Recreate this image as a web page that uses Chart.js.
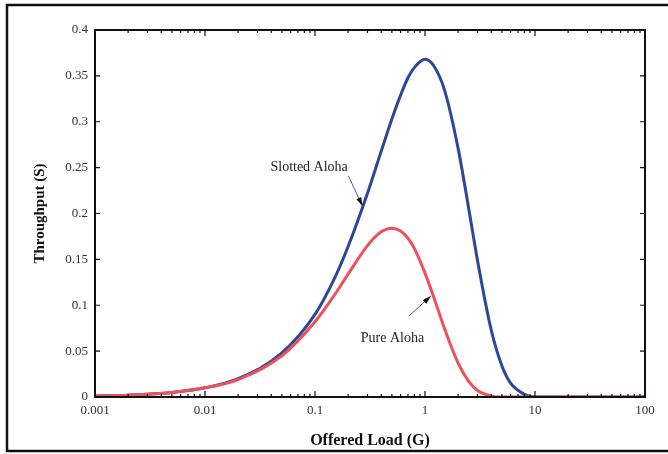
<!DOCTYPE html>
<html>
<head>
<meta charset="utf-8">
<script src="https://cdn.jsdelivr.net/npm/chart.js@4/dist/chart.umd.min.js"></script>
<style>
  html, body { margin: 0; padding: 0; background: #fff; }
  #wrap { width: 668px; height: 454px; }
</style>
</head>
<body>
<div id="wrap"><canvas id="aloha" width="668" height="454"></canvas></div>
<script>
// offered load G (log axis) and throughput
const loadG = [0.001, 0.002, 0.005, 0.01, 0.02, 0.05, 0.1, 0.15, 0.2, 0.3, 0.4, 0.5, 0.6, 0.7, 0.8, 1, 1.2, 1.5, 2, 2.5, 3, 4, 5, 6, 8, 10, 20, 50, 100];
const slotted = [0.001, 0.002, 0.005, 0.010, 0.020, 0.048, 0.090, 0.129, 0.164, 0.222, 0.268, 0.303, 0.329, 0.348, 0.359, 0.368, 0.361, 0.335, 0.271, 0.205, 0.149, 0.073, 0.034, 0.015, 0.003, 0.000, 0, 0, 0];
const pure = [0.001, 0.002, 0.005, 0.010, 0.019, 0.045, 0.082, 0.111, 0.134, 0.165, 0.180, 0.184, 0.181, 0.173, 0.162, 0.135, 0.109, 0.075, 0.037, 0.017, 0.007, 0.001, 0.000, 0, 0, 0, 0, 0, 0];
const xTicks = [0.001, 0.01, 0.1, 1, 10, 100];
const yTicks = [0, 0.05, 0.1, 0.15, 0.2, 0.25, 0.3, 0.35, 0.4];

const serif = '"Liberation Serif", "DejaVu Serif", serif';

const pts = arr => loadG.map((g, i) => ({ x: g, y: arr[i] }));

// frame, inward ticks and the two arrow labels
const decor = {
  id: 'decor',
  beforeDraw(chart) {
    const c = chart.ctx;
    c.save();
    c.fillStyle = '#fff';
    c.fillRect(0, 0, chart.width, chart.height);
    c.strokeStyle = '#111';
    c.lineWidth = 2.5;
    c.strokeRect(7, 5, 700, 446);
    c.restore();
  },
  afterDraw(chart) {
    const c = chart.ctx, a = chart.chartArea;
    const xs = chart.scales.x, ys = chart.scales.y;
    c.save();
    c.strokeStyle = '#111';
    c.lineWidth = 2;
    c.strokeRect(a.left, a.top, a.right - a.left, a.bottom - a.top);
    c.lineWidth = 1.2;
    c.beginPath();
    for (let d = 0; d < xTicks.length; d++) {
      for (let m = 1; m <= 9; m++) {
        if (d === xTicks.length - 1 && m > 1) break;
        const px = xs.getPixelForValue(xTicks[d] * m);
        const len = m === 1 ? 6 : 3;
        c.moveTo(px, a.bottom); c.lineTo(px, a.bottom - len);
        c.moveTo(px, a.top); c.lineTo(px, a.top + len);
      }
    }
    yTicks.forEach(v => {
      const py = ys.getPixelForValue(v);
      c.moveTo(a.left, py); c.lineTo(a.left + 5, py);
      c.moveTo(a.right, py); c.lineTo(a.right - 5, py);
    });
    c.stroke();

    const arrow = (x1, y1, x2, y2) => {
      c.strokeStyle = '#4a5a90';
      c.lineWidth = 1;
      c.beginPath(); c.moveTo(x1, y1); c.lineTo(x2, y2); c.stroke();
      const ang = Math.atan2(y2 - y1, x2 - x1);
      c.fillStyle = '#111';
      c.beginPath();
      c.moveTo(x2, y2);
      c.lineTo(x2 - 9 * Math.cos(ang - 0.3), y2 - 9 * Math.sin(ang - 0.3));
      c.lineTo(x2 - 9 * Math.cos(ang + 0.3), y2 - 9 * Math.sin(ang + 0.3));
      c.closePath(); c.fill();
    };
    c.font = '14px ' + serif;
    c.fillStyle = '#222';
    c.textBaseline = 'middle';

    const sx = xs.getPixelForValue(0.27), sy = ys.getPixelForValue(0.206);
    c.fillText('Slotted Aloha', sx - 92, sy - 41);
    arrow(sx - 14, sy - 32, sx, sy - 2);

    const px = xs.getPixelForValue(1.13), py = ys.getPixelForValue(0.11);
    c.fillStyle = '#222';
    c.fillText('Pure Aloha', px - 70, py + 42);
    arrow(px - 22, py + 20, px, py);
    c.restore();
  }
};

new Chart(document.getElementById('aloha'), {
  type: 'line',
  data: {
    datasets: [
      {
        label: 'Pure Aloha',
        data: pts(pure),
        borderColor: '#f0505c',
        borderWidth: 3,
        pointRadius: 0,
        cubicInterpolationMode: 'monotone'
      },
      {
        label: 'Slotted Aloha',
        data: pts(slotted),
        borderColor: '#2a4898',
        borderWidth: 3,
        pointRadius: 0,
        cubicInterpolationMode: 'monotone'
      }
    ]
  },
  options: {
    responsive: false,
    animation: false,
    layout: { padding: { left: 0, top: 30, right: 23, bottom: 0 } },
    plugins: { legend: { display: false }, tooltip: { enabled: false } },
    scales: {
      x: {
        type: 'logarithmic',
        min: 0.001,
        max: 100,
        grid: { display: false, drawTicks: false },
        border: { display: false },
        afterBuildTicks: s => { s.ticks = xTicks.map(v => ({ value: v })); },
        afterFit: s => { s.height = 57; },
        ticks: {
          autoSkip: false,
          maxRotation: 0,
          padding: 6,
          color: '#333',
          font: { family: serif, size: 13 },
          callback: v => String(v)
        },
        title: {
          display: true,
          text: 'Offered Load (G)',
          color: '#111',
          font: { family: serif, size: 16, weight: 'bold' },
          padding: { top: 2 }
        }
      },
      y: {
        min: 0,
        max: 0.4,
        grid: { display: false, drawTicks: false },
        border: { display: false },
        afterBuildTicks: s => { s.ticks = yTicks.map(v => ({ value: v })); },
        afterFit: s => { s.width = 95; },
        ticks: {
          padding: 7,
          color: '#333',
          font: { family: serif, size: 13 },
          callback: v => String(Math.round(v * 100) / 100)
        },
        title: {
          display: true,
          text: 'Throughput (S)',
          color: '#111',
          font: { family: serif, size: 15, weight: 'bold' },
          padding: { top: 31, bottom: 4 }
        }
      }
    }
  },
  plugins: [decor]
});
</script>
</body>
</html>
